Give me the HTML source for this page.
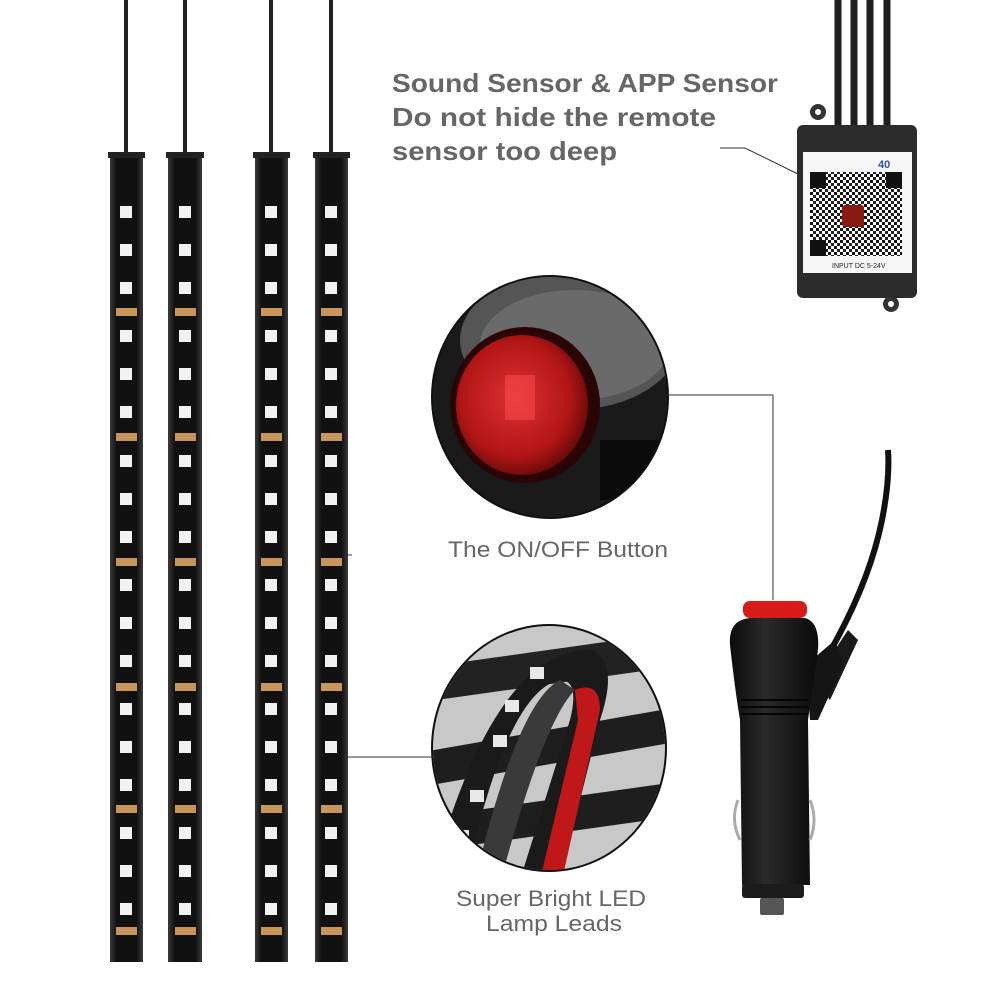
<!DOCTYPE html>
<html><head><meta charset="utf-8"><style>
html,body{margin:0;padding:0;background:#fff;width:1000px;height:1000px;overflow:hidden}
text{font-family:"Liberation Sans",sans-serif}
</style></head><body>
<svg width="1000" height="1000" viewBox="0 0 1000 1000" xmlns="http://www.w3.org/2000/svg">
<defs>
<linearGradient id="strip" x1="0" x2="1"><stop offset="0" stop-color="#3a3a3a"/><stop offset="0.2" stop-color="#111"/><stop offset="0.8" stop-color="#111"/><stop offset="1" stop-color="#3a3a3a"/></linearGradient>
<linearGradient id="plug" x1="0" x2="1"><stop offset="0" stop-color="#0c0c0c"/><stop offset="0.4" stop-color="#2a2a2a"/><stop offset="1" stop-color="#0a0a0a"/></linearGradient>
<radialGradient id="redb" cx="0.45" cy="0.45" r="0.6"><stop offset="0" stop-color="#e03030"/><stop offset="0.7" stop-color="#b01515"/><stop offset="1" stop-color="#5a0808"/></radialGradient>
<pattern id="qr" width="6" height="6" patternUnits="userSpaceOnUse"><rect width="6" height="6" fill="#fff"/><rect width="3" height="3" fill="#111"/><rect x="3" y="3" width="3" height="3" fill="#222"/></pattern>
<clipPath id="c1"><ellipse cx="550" cy="397" rx="117" ry="120"/></clipPath>
<clipPath id="c2"><ellipse cx="549" cy="748" rx="116" ry="122"/></clipPath>
</defs>

<g stroke="#222" stroke-width="4">
<line x1="126" y1="0" x2="126" y2="155"/>
<line x1="185" y1="0" x2="185" y2="155"/>
<line x1="271" y1="0" x2="271" y2="155"/>
<line x1="331" y1="0" x2="331" y2="155"/>
</g>
<rect x="110" y="152" width="33" height="810" fill="url(#strip)"/><rect x="108" y="152" width="37" height="6" fill="#222"/>
<rect x="168" y="152" width="34" height="810" fill="url(#strip)"/><rect x="166" y="152" width="38" height="6" fill="#222"/>
<rect x="255" y="152" width="33" height="810" fill="url(#strip)"/><rect x="253" y="152" width="37" height="6" fill="#222"/>
<rect x="315" y="152" width="33" height="810" fill="url(#strip)"/><rect x="313" y="152" width="37" height="6" fill="#222"/>

<!-- top circle -->
<ellipse cx="550" cy="397" rx="119" ry="122" fill="#111"/>
<g clip-path="url(#c1)">
<rect x="430" y="270" width="240" height="260" fill="#1a1a1a"/>
<ellipse cx="570" cy="340" rx="110" ry="70" fill="#555"/>
<ellipse cx="575" cy="345" rx="95" ry="55" fill="#6a6a6a"/>
<ellipse cx="525" cy="405" rx="75" ry="78" fill="#2a0505"/>
<ellipse cx="522" cy="405" rx="66" ry="70" fill="url(#redb)"/>
<rect x="505" y="375" width="30" height="45" fill="#ff5050" opacity="0.5"/>
<rect x="600" y="440" width="80" height="60" fill="#0a0a0a"/>
</g>
<!-- bottom circle -->
<ellipse cx="549" cy="748" rx="118" ry="124" fill="#111"/>
<g clip-path="url(#c2)">
<rect x="430" y="620" width="240" height="260" fill="#c8c8c8"/>
<rect x="420" y="650" width="260" height="34" fill="#222" transform="rotate(-8 549 665)"/>
<rect x="420" y="730" width="260" height="34" fill="#1e1e1e" transform="rotate(-10 549 745)"/>
<rect x="420" y="800" width="260" height="34" fill="#1e1e1e" transform="rotate(-8 549 815)"/>
<path d="M440 850 Q500 650 590 650 Q620 660 600 720 L560 880 L520 880 L570 720 Q580 680 560 680 Q510 690 470 860 Z" fill="#1a1a1a"/>
<path d="M480 860 Q520 700 560 680 L575 690 Q545 720 505 865 Z" fill="#3a3a3a"/>
<path d="M575 690 Q600 680 600 710 L562 880 L540 880 L578 720 Z" fill="#c01818"/>
<g fill="#e8e8e8"><rect x="493" y="735" width="14" height="12"/><rect x="505" y="700" width="14" height="12"/><rect x="530" y="667" width="14" height="12"/><rect x="470" y="790" width="14" height="12"/><rect x="455" y="830" width="14" height="12"/></g>
</g>

<!-- controller -->
<g stroke="#1e1e1e" stroke-width="7">
<line x1="838" y1="0" x2="838" y2="132"/><line x1="854" y1="0" x2="854" y2="132"/>
<line x1="870" y1="0" x2="870" y2="132"/><line x1="887" y1="0" x2="887" y2="132"/>
</g>
<circle cx="818" cy="112" r="8" fill="#333"/><circle cx="818" cy="112" r="3" fill="#fff"/>
<circle cx="891" cy="304" r="8" fill="#333"/><circle cx="891" cy="304" r="3" fill="#fff"/>
<rect x="797" y="125" width="120" height="173" rx="6" fill="#2c2c2c"/>
<rect x="803" y="152" width="109" height="121" fill="#f6f6f6"/>
<rect x="810" y="172" width="92" height="84" fill="url(#qr)"/>
<g fill="#111">
<rect x="810" y="172" width="16" height="16"/><rect x="886" y="172" width="16" height="16"/><rect x="810" y="240" width="16" height="16"/>
</g>
<rect x="842" y="205" width="22" height="22" rx="3" fill="#8a1a10"/>
<text x="832" y="268" font-size="7" fill="#222">INPUT DC 5-24V</text>
<text x="878" y="168" font-size="11" font-weight="bold" fill="#2a50b0">40</text>

<!-- plug -->
<path d="M832 648 Q870 580 882 520 Q890 480 888 450" stroke="#111" stroke-width="6" fill="none"/>
<path d="M815 680 L848 630 L858 640 L830 700 Z" fill="#1a1a1a"/>
<path d="M806 665 L835 640 L843 665 L818 720 L810 720 Z" fill="#151515"/>
<path d="M730 645 Q728 620 750 618 L805 618 Q820 622 818 650 Q812 690 808 720 L810 885 L742 885 L740 720 Q735 690 730 645 Z" fill="url(#plug)"/>
<g stroke="#050505" stroke-width="2"><line x1="741" y1="700" x2="808" y2="700"/><line x1="741" y1="707" x2="808" y2="707"/><line x1="741" y1="714" x2="808" y2="714"/></g>
<rect x="743" y="601" width="64" height="17" rx="7" fill="#d81a1a"/>
<rect x="742" y="884" width="62" height="14" rx="3" fill="#1c1c1c"/>
<rect x="760" y="898" width="24" height="17" rx="2" fill="#555"/>
<path d="M738 800 Q730 820 740 840" stroke="#aaa" stroke-width="3" fill="none"/>
<path d="M810 800 Q818 820 810 840" stroke="#aaa" stroke-width="3" fill="none"/>

<g stroke="#333" stroke-width="1" fill="none">
<polyline points="720,148 745,148 800,175"/>
<polyline points="667,395 773,395 773,600"/>
<line x1="348" y1="757" x2="434" y2="757"/>
<line x1="348" y1="555" x2="352" y2="555"/>
</g>

<g fill="#666" font-weight="bold" font-size="26">
<text x="392" y="92" textLength="386" lengthAdjust="spacingAndGlyphs">Sound Sensor &amp; APP Sensor</text>
<text x="392" y="126" textLength="324" lengthAdjust="spacingAndGlyphs">Do not hide the remote</text>
<text x="392" y="160" textLength="225" lengthAdjust="spacingAndGlyphs">sensor too deep</text>
</g>
<g fill="#666" font-size="22">
<text x="448" y="557" textLength="220" lengthAdjust="spacingAndGlyphs">The ON/OFF Button</text>
<text x="456" y="906" textLength="190" lengthAdjust="spacingAndGlyphs">Super Bright LED</text>
<text x="486" y="931" textLength="136" lengthAdjust="spacingAndGlyphs">Lamp Leads</text>
</g>

<g fill="#f2f2f2">
<g id="col1">
<rect x="120" y="206" width="12" height="12"/><rect x="120" y="244" width="12" height="12"/><rect x="120" y="282" width="12" height="12"/>
<rect x="120" y="330" width="12" height="12"/><rect x="120" y="368" width="12" height="12"/><rect x="120" y="406" width="12" height="12"/>
<rect x="120" y="455" width="12" height="12"/><rect x="120" y="493" width="12" height="12"/><rect x="120" y="531" width="12" height="12"/>
<rect x="120" y="579" width="12" height="12"/><rect x="120" y="617" width="12" height="12"/><rect x="120" y="655" width="12" height="12"/>
<rect x="120" y="703" width="12" height="12"/><rect x="120" y="741" width="12" height="12"/><rect x="120" y="779" width="12" height="12"/>
<rect x="120" y="827" width="12" height="12"/><rect x="120" y="865" width="12" height="12"/><rect x="120" y="903" width="12" height="12"/>
</g>
<use href="#col1" x="59"/><use href="#col1" x="145"/><use href="#col1" x="205"/>
</g>
<g fill="#c8965a">
<g id="cu">
<rect x="116" y="308" width="21" height="8"/><rect x="116" y="433" width="21" height="8"/><rect x="116" y="558" width="21" height="8"/>
<rect x="116" y="683" width="21" height="8"/><rect x="116" y="805" width="21" height="8"/><rect x="116" y="927" width="21" height="8"/>
</g>
<use href="#cu" x="59"/><use href="#cu" x="145"/><use href="#cu" x="205"/>
</g>
</svg>
</body></html>
